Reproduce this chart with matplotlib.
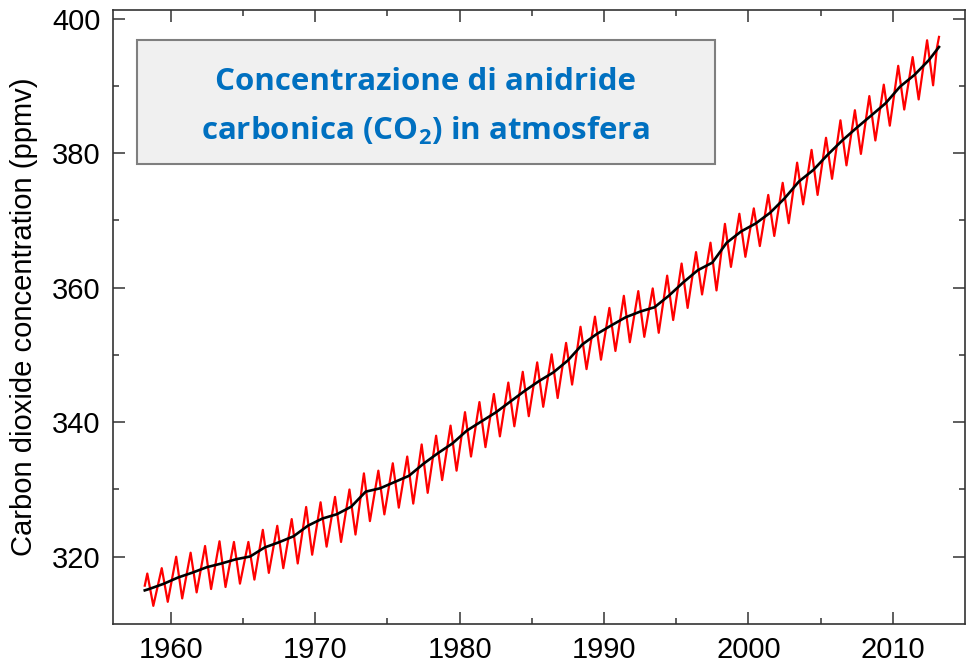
import numpy as np
import matplotlib.pyplot as plt
from matplotlib.patches import Rectangle

plt.rcParams['font.family'] = ['Liberation Sans', 'DejaVu Sans']

# Mauna Loa CO2 (ppmv)
years = list(range(1958, 2013))
may_peak = [317.5, 318.3, 320.0, 320.6, 321.6, 322.3, 322.2, 322.2, 324.0, 324.6,
            325.6, 327.4, 328.1, 328.9, 330.0, 332.4, 332.8, 333.9, 334.9, 336.7,
            338.0, 339.5, 341.5, 343.0, 344.2, 345.9, 347.5, 348.9, 350.1, 351.8,
            354.2, 355.7, 357.0, 358.8, 359.5, 359.9, 361.8, 363.6, 365.3, 366.7,
            369.5, 371.0, 371.8, 373.8, 375.6, 378.6, 380.5, 382.3, 384.9, 386.4,
            388.5, 390.2, 393.0, 394.3, 396.8]
oct_trough = [312.7, 313.3, 313.8, 314.7, 315.2, 315.5, 316.0, 316.6, 317.6, 318.3,
              319.0, 320.3, 321.5, 322.2, 323.3, 325.3, 326.3, 327.3, 327.9, 329.5,
              331.4, 332.8, 334.9, 336.3, 337.9, 339.4, 340.9, 342.3, 343.6, 345.6,
              347.9, 349.3, 350.6, 351.9, 352.7, 353.3, 355.2, 357.0, 359.0, 359.6,
              363.1, 364.6, 366.2, 367.7, 369.6, 372.4, 373.8, 376.2, 378.2, 379.9,
              381.9, 384.1, 386.5, 388.0, 390.1]
annual_mean = [315.2, 315.97, 316.91, 317.64, 318.45, 318.99, 319.62, 320.04, 321.38, 322.16,
               323.04, 324.62, 325.68, 326.32, 327.45, 329.68, 330.18, 331.11, 332.04, 333.83,
               335.40, 336.84, 338.75, 340.11, 341.45, 343.05, 344.65, 346.12, 347.42, 349.19,
               351.57, 353.12, 354.39, 355.61, 356.45, 357.10, 358.83, 360.82, 362.61, 363.73,
               366.70, 368.38, 369.55, 371.14, 373.28, 375.80, 377.52, 379.80, 381.90, 383.79,
               385.60, 387.43, 389.90, 391.65, 393.85]
# first / last monthly records (Mar 1958, Jan-Mar 2013)
start_date, start_ppm, start_trend = 1958.2, 315.7, 315.0
end_dates = [2013.05, 2013.2]
end_ppm = [395.6, 397.3]
end_trend = 395.8

# monthly curve: alternate May maxima and October minima
red_x = [start_date]
red_y = [start_ppm]
for y, hi, lo in zip(years, may_peak, oct_trough):
    red_x += [y + 4.5 / 12, y + 9.5 / 12]
    red_y += [hi, lo]
red_x += end_dates
red_y += end_ppm

trend_x = [start_date] + [y + 0.5 for y in years] + [end_dates[-1]]
trend_y = [start_trend] + annual_mean + [end_trend]

fig = plt.figure(figsize=(9.7, 6.72), dpi=100)
ax = fig.add_axes([113 / 970, 48 / 672, 852 / 970, 614 / 672])

ax.plot(red_x, red_y, color='#ff0000', lw=1.6, solid_joinstyle='round')
ax.plot(trend_x, trend_y, color='black', lw=1.9)

ax.set_xlim(1956, 2015)
ax.set_ylim(310, 401.3)
ax.set_xticks([1960, 1970, 1980, 1990, 2000, 2010])
ax.set_xticks([1965, 1975, 1985, 1995, 2005], minor=True)
ax.set_yticks([320, 340, 360, 380, 400])
ax.set_yticks([330, 350, 370, 390], minor=True)
ax.tick_params(which='both', direction='in', top=True, right=True, color='#333333', width=1.1)
ax.tick_params(which='major', length=8.6, labelsize=21, pad=9)
ax.tick_params(which='minor', length=4.3)
for s in ax.spines.values():
    s.set_color('#333333')
    s.set_linewidth(1.2)
ax.set_ylabel('Carbon dioxide concentration (ppmv)', fontsize=21, labelpad=10)

# title box
ax.add_patch(Rectangle((0.0282, 0.7492), 0.6784, 0.2019, transform=ax.transAxes,
                       facecolor='#f0f0f0', edgecolor='#7f7f7f', lw=1.5, zorder=3))
plt.rcParams['mathtext.fontset'] = 'custom'
plt.rcParams['mathtext.rm'] = 'Open Sans:bold'
plt.rcParams['mathtext.bf'] = 'Open Sans:bold'
ax.text(0.367, 0.882, 'Concentrazione di anidride', transform=ax.transAxes,
        ha='center', va='center', fontsize=22.5, fontweight='bold', color='#0070c0',
        family='Open Sans', zorder=4)
ax.text(0.367, 0.803, r'carbonica (CO$_{\mathrm{2}}$) in atmosfera', transform=ax.transAxes,
        ha='center', va='center', fontsize=22.5, fontweight='bold', color='#0070c0',
        family='Open Sans', zorder=4)

fig.savefig('out.png', dpi=100)
